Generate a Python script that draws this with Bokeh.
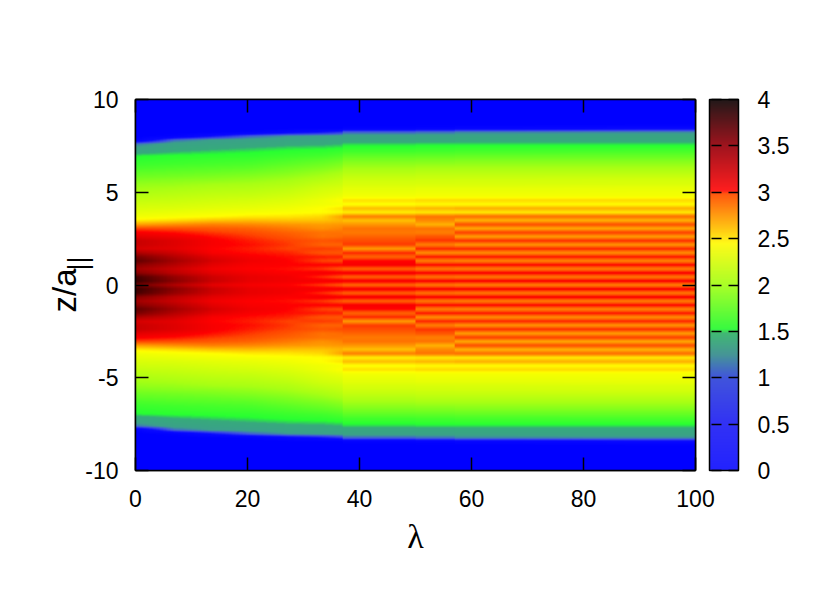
import numpy as np
from bokeh.plotting import figure
from bokeh.models import LinearColorMapper, ColorBar, FixedTicker, LinearAxis, Label
from bokeh.embed import file_html
from bokeh.resources import INLINE

FONT = "Liberation Sans"
x_ticks = [0, 20, 40, 60, 80, 100]
y_ticks = [-10, -5, 0, 5, 10]
bar_ticks = [0, 0.5, 1, 1.5, 2, 2.5, 3, 3.5, 4]

# half-profiles: value at rows k*dz (z >= 0); remaining rows are 0
dz = 20 / 92
a0 = [3.65,3.85,3.8,3.55,3.45,3.55,3.7,3.6,3.4,3.25,3.3,3.3,3.2,3.12,3.0,2.75,2.55,2.42,2.35,2.28,2.22,2.15,2.08,2.02,1.97,1.92,1.85,1.78,1.72,1.65,1.6,1.56,1.52,1.42,1.3,1.1,0.2]
a1 = [3.4,3.55,3.5,3.35,3.3,3.38,3.45,3.38,3.28,3.2,3.22,3.22,3.15,3.08,2.98,2.8,2.6,2.46,2.38,2.3,2.24,2.18,2.12,2.06,2.0,1.94,1.88,1.8,1.74,1.68,1.62,1.58,1.54,1.47,1.4,1.32,1.05,0.15]
a2 = [3.2,3.3,3.28,3.2,3.15,3.2,3.25,3.2,3.12,3.1,3.12,3.12,3.08,3.02,2.95,2.84,2.66,2.5,2.42,2.34,2.28,2.22,2.16,2.1,2.04,1.98,1.9,1.83,1.76,1.7,1.64,1.6,1.55,1.5,1.44,1.36,1.25,0.6]
a3 = [3.13,3.18,3.18,3.14,3.1,3.12,3.15,3.12,3.08,3.06,3.08,3.06,3.02,2.98,2.92,2.82,2.68,2.55,2.45,2.37,2.31,2.25,2.18,2.12,2.06,2.0,1.93,1.86,1.79,1.72,1.66,1.61,1.56,1.52,1.47,1.4,1.3,1.0,0.1]
a4 = [3.1,3.14,3.14,3.1,3.08,3.1,3.1,3.08,3.05,3.0,3.02,3.0,2.96,2.92,2.86,2.78,2.66,2.56,2.48,2.42,2.36,2.3,2.24,2.18,2.12,2.05,1.99,1.92,1.85,1.79,1.72,1.66,1.6,1.55,1.5,1.44,1.36,1.2,0.4]
a5 = [3.02,3.13,3.04,3.13,3.02,3.1,3.0,3.06,2.96,3.02,2.92,2.96,2.88,2.88,2.8,2.76,2.66,2.6,2.5,2.5,2.42,2.4,2.33,2.28,2.23,2.16,2.08,2.0,1.93,1.85,1.78,1.71,1.63,1.57,1.51,1.45,1.37,1.24,0.6]
a6 = [2.95,3.13,2.96,3.12,2.95,3.1,2.98,3.05,2.95,3.0,2.92,2.98,2.9,2.88,2.84,2.78,2.7,2.78,2.52,2.58,2.46,2.5,2.4,2.33,2.28,2.21,2.16,2.08,2.0,1.92,1.84,1.76,1.68,1.6,1.53,1.47,1.39,1.28,0.8]
b0 = [2.92,3.13,2.94,3.13,2.93,3.12,3.09,2.92,3.05,2.76,3.02,2.98,2.92,2.86,2.88,2.78,2.66,2.85,2.54,2.68,2.49,2.58,2.44,2.38,2.34,2.27,2.22,2.14,2.06,1.98,1.9,1.82,1.73,1.63,1.56,1.49,1.41,1.31,1.0,0.15]
c0 = [2.87,3.12,2.88,3.12,2.86,3.1,2.84,3.08,2.8,3.06,2.84,3.03,2.96,2.84,2.88,2.7,2.82,2.88,2.55,2.7,2.5,2.6,2.45,2.4,2.36,2.28,2.23,2.16,2.08,2.0,1.91,1.83,1.74,1.64,1.57,1.5,1.41,1.32,1.05,0.2]
d0 = [2.85,3.12,2.87,3.12,2.85,3.1,2.83,3.08,2.8,3.06,2.78,3.05,2.75,3.02,2.72,2.98,2.7,2.9,2.55,2.72,2.5,2.6,2.45,2.4,2.36,2.28,2.24,2.16,2.08,2.0,1.92,1.84,1.75,1.65,1.58,1.5,1.42,1.34,1.12,0.3]
d1 = [2.85,3.12,2.87,3.12,2.85,3.1,2.83,3.08,2.8,3.06,2.78,3.05,2.75,3.02,2.72,2.98,2.7,2.9,2.55,2.72,2.5,2.6,2.45,2.41,2.37,2.29,2.25,2.17,2.08,2.0,1.92,1.84,1.75,1.66,1.58,1.5,1.42,1.35,1.15,0.4]

lam_a = [0, 6.7, 13.5, 20.2, 27, 33, 37]
lam_b = [37, 50]
lam_c = [50, 57]
lam_d = [68, 90]

field_ramp = [(0,0,0,255),(0.6,10,10,255),(1,65,85,225),(1.25,60,160,140),(1.46,55,170,125),(1.53,40,255,50),
              (2,170,255,20),(2.5,255,255,0),(3,255,70,0),(3.1,255,0,0),(3.5,150,0,0),(4,20,0,0)]
bar_ramp = [(0,35,35,255),(0.5,50,50,245),(1,65,85,220),(1.25,70,150,150),(1.48,65,185,115),(1.52,55,250,65),
            (2,170,255,40),(2.45,255,250,25),(2.6,255,200,20),(2.98,255,90,15),(3.02,255,30,30),(3.5,160,20,30),(4,35,25,25)]

def make_palette(ramp, n=512):
    v = np.linspace(0, 4, n)
    a = np.array(ramp, dtype=float)
    rgb = [np.interp(v, a[:, 0], a[:, i]) for i in (1, 2, 3)]
    return ["#%02x%02x%02x" % (int(r), int(g), int(b)) for r, g, b in zip(*rgb)]

z_rows = np.arange(-46, 47) * dz
z_fine = np.linspace(-10, 10, 743)

def panel(cols, lams, lo, hi):
    # display-only smoothing of the read profiles (the reference's surface is smoothed the same way);
    # the panel edges at lambda = 37, 50, 57 stay sharp
    rows = []
    for c in cols:
        half = list(c) + [0.0] * (47 - len(c))
        full = np.array(half[:0:-1] + half, dtype=float)
        rows.append(np.interp(z_fine, z_rows, full))
    rows = np.array(rows)
    lam_fine = np.linspace(lo, hi, max(2, int(round((hi - lo) / 0.25))))
    out = np.array([[np.interp(l, lams, rows[:, i]) for l in lam_fine] for i in range(len(z_fine))])
    return out

field_mapper = LinearColorMapper(palette=make_palette(field_ramp), low=0, high=4)
bar_mapper = LinearColorMapper(palette=make_palette(bar_ramp), low=0, high=4)

p = figure(frame_width=560, frame_height=371, x_range=(0, 100), y_range=(-10, 10),
           output_backend="svg", toolbar_location=None, tools="",
           min_border_left=135, min_border_top=99, min_border_bottom=100, min_border_right=119)
p.grid.visible = False
p.background_fill_color = "white"
p.outline_line_color = "black"
p.outline_line_width = 1.5

for cols, lams, lo, hi in [([a0, a1, a2, a3, a4, a5, a6], lam_a, 0, 37),
                           ([b0, b0], lam_b, 37, 50),
                           ([c0, c0], lam_c, 50, 57),
                           ([d0, d1], lam_d, 57, 100)]:
    p.image(image=[panel(cols, lams, lo, hi)], x=lo, y=-10, dw=hi - lo + 0.3, dh=20, color_mapper=field_mapper)

def style(ax, ticks, labels=True):
    ax.ticker = FixedTicker(ticks=ticks)
    ax.major_tick_in = 13
    ax.major_tick_out = 0
    ax.minor_tick_in = 0
    ax.minor_tick_out = 0
    ax.major_tick_line_color = "black"
    ax.major_tick_line_width = 1.5
    ax.axis_line_color = "black"
    ax.axis_line_width = 1.5
    ax.major_label_text_font = FONT
    ax.major_label_text_color = "black"
    ax.major_label_text_font_size = "23px"
    ax.major_label_standoff = 8
    if not labels:
        ax.major_label_overrides = {t: "" for t in ticks}
        ax.major_label_standoff = 0

style(p.xaxis[0], x_ticks)
style(p.yaxis[0], y_ticks)
p.yaxis[0].major_label_overrides = {-10: "-10", -5: "-5"}
p.xaxis[0].major_label_standoff = 19
p.yaxis[0].major_label_standoff = 17
p.xaxis[0].axis_label = "λ"
p.xaxis[0].axis_label_text_color = "black"
p.xaxis[0].axis_label_text_font = "Liberation Serif"
p.xaxis[0].axis_label_text_font_style = "normal"
p.xaxis[0].axis_label_text_font_size = "34px"
p.xaxis[0].axis_label_standoff = 8

top = LinearAxis(); style(top, x_ticks, False); p.add_layout(top, "above")
right = LinearAxis(); style(right, y_ticks, False); p.add_layout(right, "right")

cb = ColorBar(color_mapper=bar_mapper, ticker=FixedTicker(ticks=bar_ticks), width=29, height=371,
              padding=0, margin=0, location=(14, 0), major_tick_in=29, major_tick_out=0, minor_tick_in=0,
              major_tick_line_color="black", major_tick_line_width=1.5, major_tick_line_dash="10 7",
              bar_line_color="black", bar_line_width=1.5, border_line_color=None, background_fill_color=None,
              major_label_text_font=FONT, major_label_text_font_size="23px", major_label_text_color="black",
              label_standoff=19)
p.add_layout(cb, "right")

p.add_layout(Label(x=37, y=158, x_units="screen", y_units="screen", text="z/a", angle=np.pi / 2,
                   text_font=FONT, text_font_size="33px", text_color="black"), "left")
p.add_layout(Label(x=77, y=200, x_units="screen", y_units="screen", text="||", angle=np.pi / 2,
                   text_font=FONT, text_font_size="27px", text_color="black"), "left")

open("out.html", "w").write(file_html(p, INLINE))
